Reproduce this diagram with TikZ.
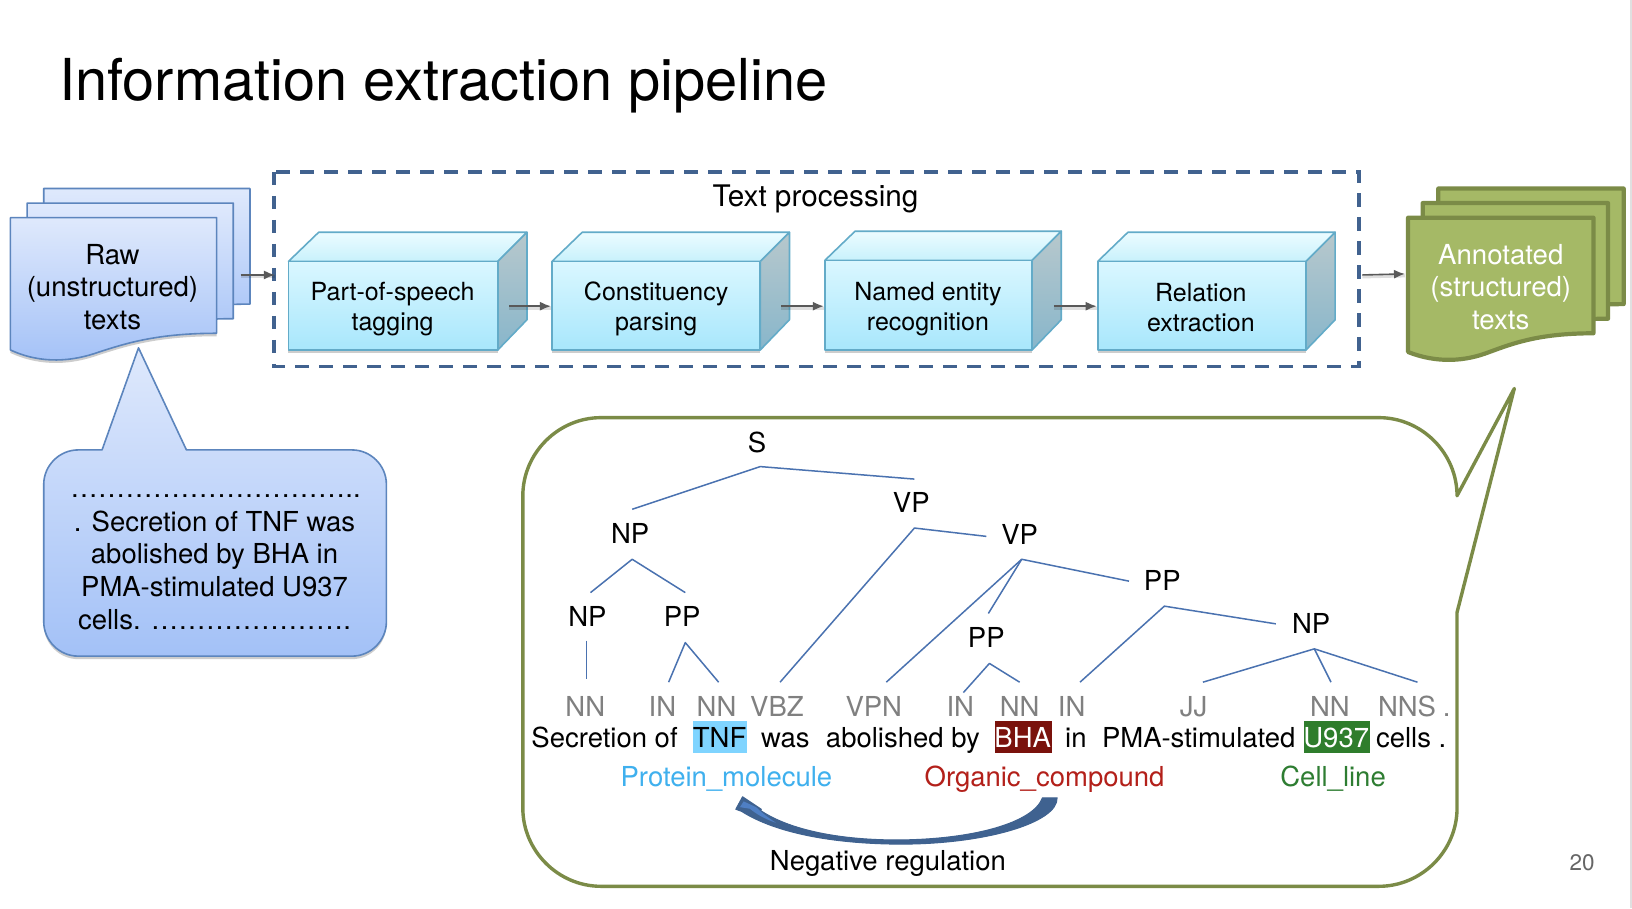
\documentclass[tikz,border=0pt]{standalone}
\usepackage{fontspec}
\setmainfont{TeX Gyre Heros}
\usetikzlibrary{shadows,arrows.meta}
\definecolor{rawtop}{HTML}{DFE9FC}
\definecolor{rawbot}{HTML}{A3C1F7}
\definecolor{rawline}{HTML}{5C85BD}
\definecolor{cubeline}{HTML}{63ABC8}
\definecolor{grn}{HTML}{A5B966}
\definecolor{grnline}{HTML}{7B8B47}
\definecolor{dashline}{HTML}{41628F}
\definecolor{tree}{HTML}{4A72B0}
\definecolor{arrowgray}{HTML}{595959}
\definecolor{curve}{HTML}{3F6290}
\definecolor{curvelight}{HTML}{4F7FC4}
\definecolor{cfa}{HTML}{DAF7FF}
\definecolor{cfb}{HTML}{A8E7FC}
\definecolor{cta}{HTML}{ECFCFF}
\definecolor{ctb}{HTML}{C8F1FC}
\definecolor{csa}{HTML}{B7C8CC}
\definecolor{csb}{HTML}{88B6CB}
\definecolor{hlblue}{HTML}{7FD4FF}
\definecolor{hlred}{HTML}{7A120C}
\definecolor{hlgreen}{HTML}{2F7D2C}
\definecolor{entblue}{HTML}{3FB0EE}
\definecolor{entred}{HTML}{B3201A}
\definecolor{entgreen}{HTML}{2E7D32}
\tikzset{
  softshadow/.style={drop shadow={shadow xshift=0pt,shadow yshift=-3pt,opacity=.28,fill=black!70}},
  rawdoc/.style={top color=rawtop,bottom color=rawbot,draw=rawline,line width=1.6pt,line join=round},
  grndoc/.style={fill=grn,draw=grnline,line width=4.2pt,line join=round},
  cubefront/.style={top color=cfa,bottom color=cfb,draw=cubeline,line width=1.6pt,line join=round},
  cubetop/.style={top color=cta,bottom color=ctb,draw=cubeline,line width=1.6pt,line join=round},
  cubeside/.style={top color=csa,bottom color=csb,draw=cubeline,line width=1.6pt,line join=round},
  flow/.style={draw=arrowgray,line width=1.6pt,-{Latex[length=11pt,width=9pt]},
    preaction={draw=black,opacity=.13,line width=3pt,-,transform canvas={yshift=-2pt}}},
  branch/.style={draw=tree,line width=1.5pt,line join=round},
  body/.style={font=\fontsize{25}{30}\selectfont,align=center,inner sep=0pt},
  bodyb/.style={font=\fontsize{27.5}{32.6}\selectfont,align=center,inner sep=0pt},
  docfont/.style={font=\fontsize{27.6}{32.5}\selectfont,align=center,inner sep=0pt},
  lbl/.style={font=\fontsize{27.5}{31}\selectfont,inner sep=0pt,anchor=base},
  postag/.style={lbl,text=black!50},
  word/.style={lbl},
  ent/.style={lbl},
}
\newcommand{\tridots}{…}
\newcommand{\docpath}[2]{(#1,#2) -- (#1+198,#2) -- (#1+198,#2+111) .. controls (#1+140,#2+111) and (#1+110,#2+121) .. (#1+85,#2+129) .. controls (#1+60,#2+138) and (#1+30,#2+141) .. (#1,#2+127) -- cycle}
\newcommand{\grnpath}[2]{(#1,#2) -- (#1+178,#2) -- (#1+178,#2+111) .. controls (#1+125,#2+111) and (#1+100,#2+121) .. (#1+78,#2+129) .. controls (#1+55,#2+138) and (#1+28,#2+140) .. (#1,#2+129) -- cycle}
\newcommand{\cube}[4]{% x0,x1,ytop,ybottom
  \path[cubetop] (#1,#3) -- (#1+29,#3-28) -- (#2+28,#3-28) -- (#2,#3) -- cycle;
  \path[cubeside] (#2,#3) -- (#2+28,#3-28) -- (#2+28,#4-29) -- (#2,#4) -- cycle;
  \path[cubefront,softshadow] (#1,#3) rectangle (#2,#4);
}
\begin{document}
\begin{tikzpicture}[x=1.0415pt,y=-1.0415pt]
\useasboundingbox (0,0) rectangle (1567,872);
\fill[white] (0,0) rectangle (1567,872);
\fill[black!12] (1565.5,0) rectangle (1567,872);
\node[font=\fontsize{57.8}{60}\selectfont,inner sep=0pt,anchor=base west] (title) at (56.5,96.4) {Information extraction pipeline};
% dashed box
\draw[dashline,line width=3.5pt,dash pattern=on 13.5pt off 10.5pt] (263,165) rectangle (1305,352);
\node[font=\fontsize{29.7}{32}\selectfont,inner sep=0pt,anchor=base] (tp) at (783,198) {Text processing};
% raw docs
\path[rawdoc] \docpath{42}{181};
\path[rawdoc] \docpath{26}{195};
\path[rawdoc,softshadow] \docpath{10}{209};
\node[docfont] (raw) at (108,275.5) {Raw\\(unstructured)\\texts};
% cubes
\cube{277}{478}{251}{336}
\cube{530}{730}{251}{336}
\cube{792}{991}{250}{336}
\cube{1054}{1254}{251}{336}
\node[body] (c1) at (377,297) {Part-of-speech\\tagging};
\node[body] (c2) at (630,297) {Constituency\\parsing};
\node[body] (c3) at (891,297) {Named entity\\recognition};
\node[body] (c4) at (1153,295) {Relation\\extraction};
% green docs
\path[grndoc] \grnpath{1381}{181};
\path[grndoc] \grnpath{1366}{195};
\path[grndoc] \grnpath{1352}{209};
\node[docfont,text=white] (ann) at (1441,275.5) {Annotated\\(structured)\\texts};
% flow arrows
\coordinate (a1) at (231,264); \coordinate (a2) at (264,264);
\coordinate (b1) at (489,294); \coordinate (b2) at (529,294);
\coordinate (d1) at (750,294); \coordinate (d2) at (791,294);
\coordinate (e1) at (1012,294); \coordinate (e2) at (1053,294);
\coordinate (f1) at (1308,264); \coordinate (f2) at (1349,263);
\draw[flow] (a1) -- (a2);
\draw[flow] (b1) -- (b2);
\draw[flow] (d1) -- (d2);
\draw[flow] (e1) -- (e2);
\draw[flow] (f1) -- (f2);
% blue callout
\path[rawdoc,softshadow] (133,334) -- (179,432) -- (338,432) .. controls (356,432) and (371,447) .. (371,465) -- (371,597) .. controls (371,615) and (356,630) .. (338,630) -- (75,630) .. controls (57,630) and (42,615) .. (42,597) -- (42,465) .. controls (42,447) and (57,432) .. (75,432) -- (98,432) -- cycle;
\node[font=\fontsize{27.5}{32}\selectfont,inner sep=0pt,anchor=base] (dots) at (207,478) {\tridots\tridots\tridots\tridots\tridots\tridots\tridots\tridots\tridots\tridots..};
\node[bodyb,anchor=base] (callout) at (206,604) {. Secretion of TNF was\\abolished by BHA in\\PMA-stimulated U937\\cells. \tridots\tridots\tridots\tridots\tridots\tridots\tridots.};
% green callout
\draw[grnline,line width=3.4pt,line join=round] (577,401) -- (1324,401) .. controls (1365,401) and (1399,435) .. (1399,476) -- (1454,373) -- (1399,588) -- (1399,776) .. controls (1399,817) and (1365,851) .. (1324,851) -- (577,851) .. controls (536,851) and (502,817) .. (502,776) -- (502,476) .. controls (502,435) and (536,401) .. (577,401) -- cycle;
% tree labels
\foreach \n/\t/\x/\y in {ls/S/727/434,lvp1/VP/875/492,lnp1/NP/605/522,lvp2/VP/979/523,lnp2/NP/564/602,lpp1/PP/655/602,lpp2/PP/1116/567,lpp3/PP/947/622,lnp3/NP/1259/608}
  \node[word] (\n) at (\x,\y) {\t};
% tree branches
\foreach \n/\x/\y in {t1/607/489,t2/730/448,t3/878/460,t4/567/569,t5/607/537,t6/658/569,t7/563/615,t8/563/652,t9/642/655,t10/658/617,t11/690/655,t12/749/655,t13/878/507,t14/947/515,t15/851/655,t16/981/537,t17/1084/558,t18/949/589,t19/925/665,t20/950/637,t21/979/655,t22/1037/655,t23/1118/582,t24/1225/599,t25/1155/655,t26/1262/623,t27/1361/655,t28/1278/655}
  \coordinate (\n) at (\x,\y);
\draw[branch] (t1) -- (t2) -- (t3);
\draw[branch] (t4) -- (t5) -- (t6);
\draw[branch] (t7) -- (t8);
\draw[branch] (t9) -- (t10) -- (t11);
\draw[branch] (t12) -- (t13) -- (t14);
\draw[branch] (t15) -- (t16) -- (t17);
\draw[branch] (t18) -- (t16);
\draw[branch] (t19) -- (t20) -- (t21);
\draw[branch] (t22) -- (t23) -- (t24);
\draw[branch] (t25) -- (t26) -- (t27);
\draw[branch] (t26) -- (t28);
% POS
\foreach \n/\t/\x in {p1/NN/562,p2/IN/636,p3/NN/688,p4/VBZ/746,p5/VPN/839,p6/IN/922,p7/NN/979,p8/IN/1029,p9/JJ/1146,p10/NN/1277,p11/NNS/1351,p12/./1389}
  \node[postag] (\n) at (\x,688) {\t};
% highlights
\fill[hlblue] (665,692) rectangle (717,723);
\fill[hlred] (955,692) rectangle (1010,723);
\fill[hlgreen] (1252,692) rectangle (1315,723);
% sentence
\foreach \n/\t/\x in {w1/Secretion of/580.5,w2/TNF/691,w3/was/754,w4/abolished by/867,w6/in/1033,w7/PMA-stimulated/1151,w9/cells ./1355}
  \node[word] (\n) at (\x,718) {\t};
\node[word,text=white] (w5) at (982,718) {BHA};
\node[word,text=white] (w8) at (1283,718) {U937};
% entities
\node[ent,text=entblue] (e1n) at (697.5,755) {Protein\_molecule};
\node[ent,text=entred] (e2n) at (1003,755) {Organic\_compound};
\node[ent,text=entgreen] (e3n) at (1280,755) {Cell\_line};
% curved arrow
\path[fill=curve,draw=curve,line width=1pt,line join=round] (1015,766) .. controls (1016,790) and (945,811) .. (862,810.5) .. controls (800,810) and (745,800) .. (712,779) -- (706.5,777) -- (713,765) -- (731,777) -- (730,778) .. controls (755,795) and (800,806.5) .. (862,806.5) .. controls (935,806) and (992,790) .. (1001,766) -- cycle;
\fill[curvelight] (714,769.5) -- (710.5,775) -- (720,776.5) .. controls (728,783) and (736,787) .. (745,790) .. controls (736,784) and (730,779) .. (726,775) -- cycle;
\node[font=\fontsize{27.5}{31}\selectfont,inner sep=0pt,anchor=base] (neg) at (852.5,836) {Negative regulation};
\node[font=\fontsize{22.5}{26}\selectfont,text=black!60,inner sep=0pt] (page) at (1519,828) {20};
\end{tikzpicture}
\end{document}
